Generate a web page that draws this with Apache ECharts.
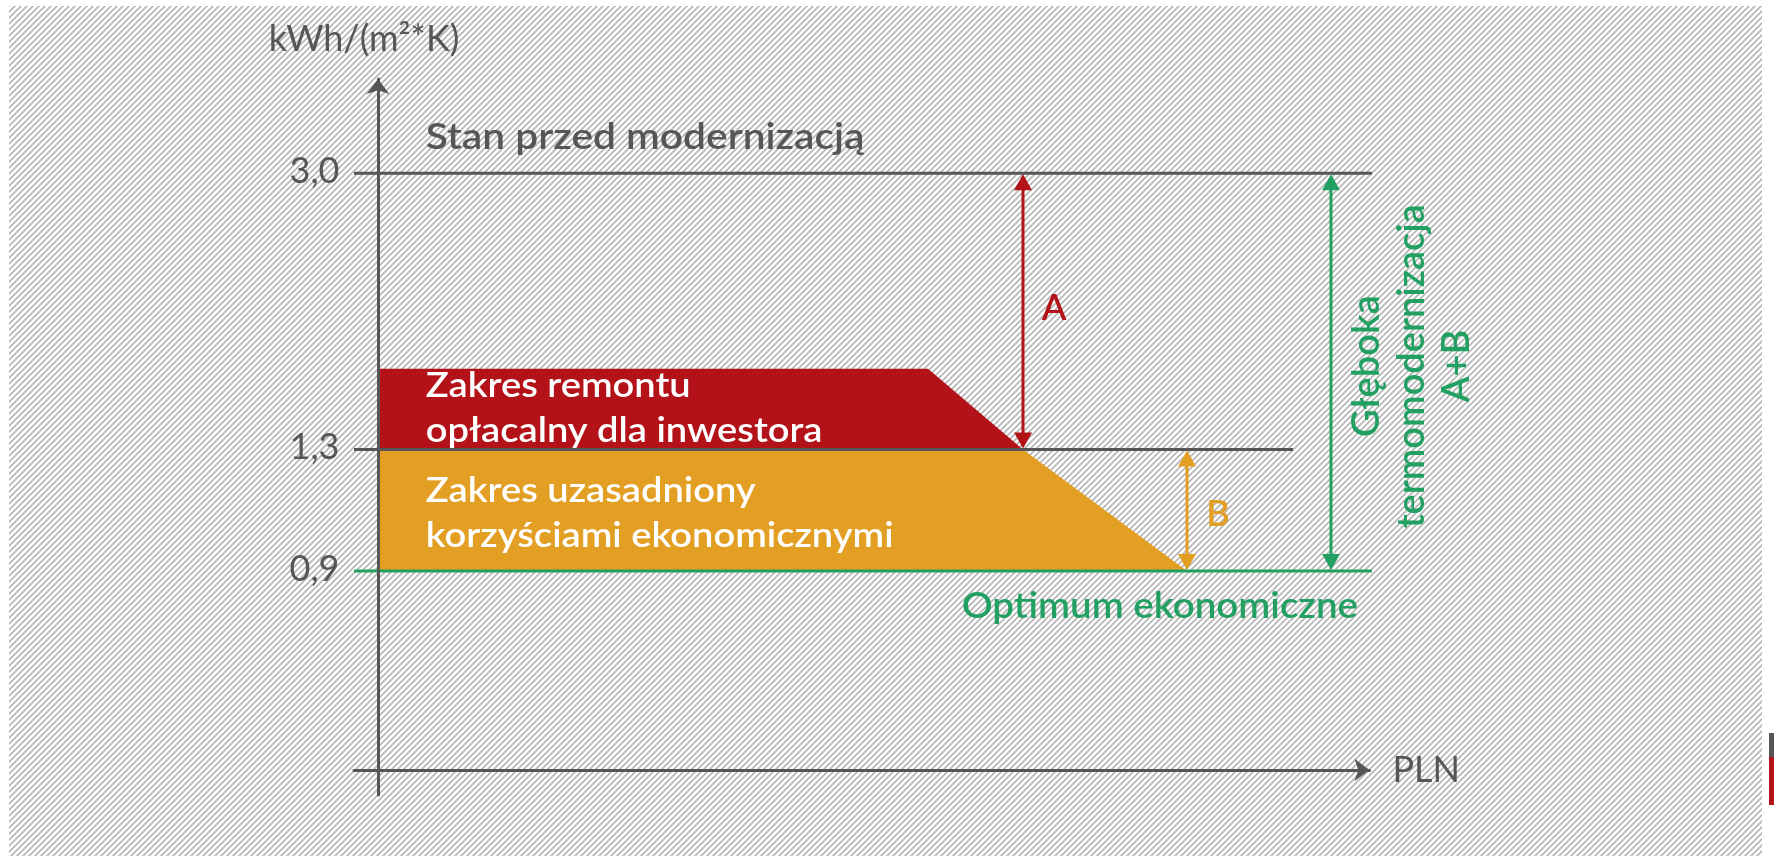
<!DOCTYPE html>
<html>
<head>
<meta charset="utf-8">
<title>Głęboka termomodernizacja</title>
<script src="https://cdn.jsdelivr.net/npm/echarts@6/dist/echarts.min.js"></script>
<style>
  html, body { margin: 0; padding: 0; background: #fff; }
  #hatch {
    position: absolute; left: 9px; top: 6px; width: 1753px; height: 850px;
    background-image: url("data:image/svg+xml;utf8,<svg xmlns='http://www.w3.org/2000/svg' width='6' height='6'><path d='M-1,1 l2,-2 M0,6 l6,-6 M5,7 l2,-2' stroke='%23b4b4b4' stroke-width='1.6'/></svg>");
    background-size: 6px 6px;
  }
  #edge { position: absolute; left: 1769px; top: 733px; width: 5px; height: 72px;
    background: linear-gradient(#555 0 24px, #b21218 24px 72px); }
  #chart { position: absolute; left: 0; top: 0; width: 1774px; height: 856px; }
</style>
</head>
<body>
<div id="hatch"></div>
<div id="edge"></div>
<div id="chart"></div>
<script>
// levels on the kWh/(m2*K) axis
const levelValues = [3.0, 1.3, 0.9];
const levelLabels = ['3,0', '1,3', '0,9'];
const levelEndX = [100, 91.5, 100];
const levelNames = ['Stan przed modernizacją', '', 'Optimum ekonomiczne'];

// shaded ranges (x in schematic PLN units)
const zoneNames = ['Zakres remontu\nopłacalny dla inwestora', 'Zakres uzasadniony\nkorzyściami ekonomicznymi'];
const zoneX = [[0, 55, 64.5, 0], [0, 64.5, 80.9, 0]];
const zoneY = [[1.66, 1.66, 1.3, 1.3], [1.3, 1.3, 0.9, 0.9]];

// dimension arrows
const arrowNames = ['A', 'B', 'Głęboka\ntermomodernizacja\nA+B'];
const arrowX = [64.5, 80.9, 95.3];
const arrowFrom = [3.0, 1.3, 3.0];
const arrowTo = [1.3, 0.9, 0.9];

const GRAY = '#565656';
const RED = '#b21218';
const ORANGE = '#e39f23';
const GREEN = '#22a062';
const FONT = 'Lato';

const xMin = -2.4, xMax = 99.15;
const yMin = 0.457, yMax = 3.99;

var chart = echarts.init(document.getElementById('chart'));

var levelSeries = levelValues.map(function (v, i) {
  return {
    type: 'line',
    name: levelLabels[i],
    data: [[xMin, v], [levelEndX[i], v]],
    symbol: 'none',
    clip: false,
    silent: true,
    z: 3,
    lineStyle: { color: i === 2 ? GREEN : GRAY, width: 3 }
  };
});

var option = {
  animation: false,
  grid: { left: 354, right: 404.5, top: 79, bottom: 61, outerBoundsMode: 'none' },
  xAxis: {
    type: 'value',
    min: xMin,
    max: xMax,
    offset: -25,
    z: 5,
    axisLine: {
      show: true, onZero: false,
      lineStyle: { color: GRAY, width: 3 },
      symbol: ['none', 'arrow'], symbolSize: [17, 15]
    },
    axisTick: { show: false },
    axisLabel: { show: false },
    splitLine: { show: false },
    name: 'PLN',
    nameLocation: 'end',
    nameGap: 23,
    nameTextStyle: { fontSize: 36, color: GRAY, fontFamily: FONT, verticalAlign: 'middle' }
  },
  yAxis: {
    type: 'log',
    min: yMin,
    max: yMax,
    z: 5,
    axisLine: {
      show: true, onZero: true,
      lineStyle: { color: GRAY, width: 3 },
      symbol: ['none', 'arrow'], symbolSize: [17, 15]
    },
    axisTick: { show: false },
    axisLabel: { show: false },
    splitLine: { show: false },
    name: 'kWh/(m²*K)',
    nameLocation: 'end',
    nameGap: 22,
    nameTextStyle: { fontSize: 36, color: GRAY, fontFamily: FONT, padding: [0, 28, 0, 0] }
  },
  series: [
    {
      type: 'custom',
      name: 'zones',
      silent: true,
      z: 1,
      data: zoneNames.map(function (n, i) { return [zoneX[i][0], zoneY[i][0]]; }),
      renderItem: function (params, api) {
        var i = params.dataIndex;
        var pts = zoneX[i].map(function (x, k) { return api.coord([x, zoneY[i][k]]); });
        return {
          type: 'group',
          children: [
            { type: 'polygon', shape: { points: pts }, style: { fill: i === 0 ? RED : ORANGE } },
            {
              type: 'text', x: pts[0][0] + 47.7, y: pts[0][1] + (i === 0 ? -5 : 19), scaleX: 1.12,
              style: {
                text: zoneNames[i], fill: '#fff', font: '600 34px ' + FONT,
                align: 'left', verticalAlign: 'top', lineHeight: 45
              }
            }
          ]
        };
      }
    }
  ].concat(levelSeries).concat([
    {
      type: 'custom',
      name: 'level labels',
      silent: true,
      z: 6,
      data: levelValues.map(function (v) { return [0, v]; }),
      renderItem: function (params, api) {
        var i = params.dataIndex;
        var p = api.coord([api.value(0), api.value(1)]);
        var end = api.coord([levelEndX[i], api.value(1)]);
        var children = [{
          type: 'text', x: p[0] - 38.5, y: p[1] - 2,
          style: { text: levelLabels[i], fill: GRAY, font: '36px ' + FONT, align: 'right', verticalAlign: 'middle' }
        }];
        if (i === 0) {
          children.push({
            type: 'text', x: p[0] + 47.7, y: p[1] - 36, scaleX: 1.13,
            style: { text: levelNames[i], fill: GRAY, font: '600 36px ' + FONT, align: 'left', verticalAlign: 'middle' }
          });
        } else if (i === 2) {
          children.push({
            type: 'text', x: end[0] - 20, y: p[1] + 35, scaleX: 1.07,
            style: { text: levelNames[i], fill: GREEN, font: '600 36px ' + FONT, align: 'right', verticalAlign: 'middle' }
          });
        }
        return { type: 'group', children: children };
      }
    },
    {
      type: 'custom',
      name: 'arrows',
      silent: true,
      z: 4,
      data: arrowX.map(function (x, i) { return [x, arrowFrom[i], arrowTo[i]]; }),
      encode: { x: 0, y: [1, 2] },
      renderItem: function (params, api) {
        var i = params.dataIndex;
        var c = [RED, ORANGE, GREEN][i];
        var top = api.coord([api.value(0), api.value(1)]);
        var bot = api.coord([api.value(0), api.value(2)]);
        top[1] += 1; bot[1] -= 1;
        var hw = 9, hl = 16;
        var mid = (top[1] + bot[1]) / 2;
        var text;
        if (i < 2) {
          text = {
            type: 'text', x: top[0] + 31, y: mid + (i === 0 ? -3 : 4),
            style: { text: arrowNames[i], fill: c, font: '600 36px ' + FONT, align: 'center', verticalAlign: 'middle' }
          };
        } else {
          text = {
            type: 'text', x: top[0] + 81, y: mid - 6, rotation: Math.PI / 2,
            style: { text: arrowNames[i], fill: c, font: '600 38px ' + FONT, align: 'center', verticalAlign: 'middle', lineHeight: 45 }
          };
        }
        return {
          type: 'group',
          children: [
            { type: 'line', shape: { x1: top[0], y1: top[1] + hl - 2, x2: bot[0], y2: bot[1] - hl + 2 }, style: { stroke: c, lineWidth: 3 } },
            { type: 'polygon', shape: { points: [[top[0], top[1]], [top[0] - hw, top[1] + hl], [top[0] + hw, top[1] + hl]] }, style: { fill: c } },
            { type: 'polygon', shape: { points: [[bot[0], bot[1]], [bot[0] - hw, bot[1] - hl], [bot[0] + hw, bot[1] - hl]] }, style: { fill: c } },
            text
          ]
        };
      }
    }
  ])
};

chart.setOption(option);
</script>
</body>
</html>
